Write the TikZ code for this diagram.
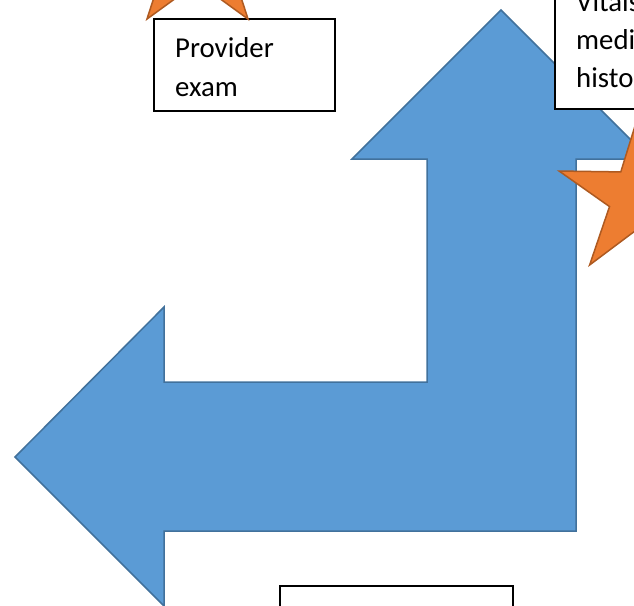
\documentclass[tikz,border=0pt]{standalone}
\usepackage{fontspec}
\setmainfont{Carlito}
\definecolor{arrowblue}{HTML}{5B9BD5}
\definecolor{arrowedge}{HTML}{41719C}
\definecolor{starorange}{HTML}{ED7D31}
\definecolor{staredge}{HTML}{AE5A21}
\begin{document}
\begin{tikzpicture}[x=1pt,y=-1pt,
  bigarrow/.style={fill=arrowblue, draw=arrowedge, line width=1.5pt, line join=miter},
  starshape/.style={fill=starorange, draw=staredge, line width=1.5pt, line join=miter},
  textbox/.style={draw=black, fill=white, line width=1.8pt, inner sep=0pt},
  boxlabel/.style={anchor=base west, align=left, inner sep=0pt}]
\useasboundingbox (0,0) rectangle (634,605);
\clip (0,0) rectangle (634,605);
% bent arrow
\draw[bigarrow] (501,10) -- (650,159) -- (576,159) -- (576,531) -- (164,531)
  -- (164,606) -- (15,457) -- (164,307) -- (164,382) -- (427,382) -- (427,159)
  -- (352,159) -- cycle;
% text boxes
\node[textbox, minimum width=181pt, minimum height=92pt, anchor=north west] (provbox) at (153,18) {};
\node[textbox, minimum width=200pt, minimum height=150pt, anchor=south west] (vitbox) at (554,110) {};
\node[textbox, minimum width=233pt, minimum height=60pt, anchor=north west] (botbox) at (279,585) {};
\node[boxlabel, font=\fontsize{28.8}{39.5}\selectfont] (provtxt) at (175,96.8) {Provider\\exam};
\node[boxlabel, font=\fontsize{28.8}{38}\selectfont] (vittxt) at (576,87.3) {Vitals,\\medications,\\history};
% stars
\draw[starshape] ([shift={(197.5,-50.5)}]270:86)
  \foreach \k [evaluate=\k as \rr using {mod(\k,2)==0 ? 86 : 32.9}] in {1,...,9} {
    -- ([shift={(197.5,-50.5)}]{270+36*\k}:\rr) } -- cycle;
\draw[starshape] ([shift={(639,197)}]270:84)
  \foreach \k [evaluate=\k as \rr using {mod(\k,2)==0 ? 84 : 31}] in {1,...,9} {
    -- ([shift={(639,197)}]{270+36*\k}:\rr) } -- cycle;
\end{tikzpicture}
\end{document}
